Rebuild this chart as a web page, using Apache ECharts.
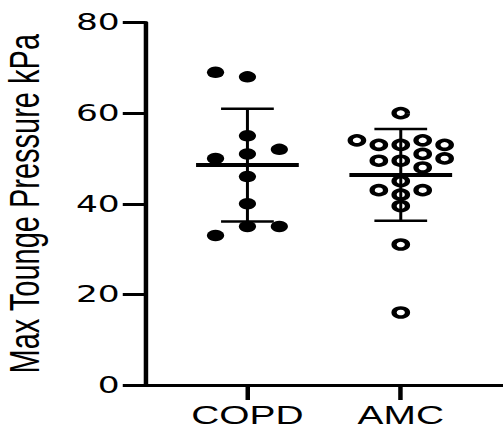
<!DOCTYPE html>
<html>
<head>
<meta charset="utf-8">
<script src="https://cdn.jsdelivr.net/npm/echarts@6/dist/echarts.min.js"></script>
<style>
  html, body { margin: 0; padding: 0; background: #fff; overflow: hidden; }
  /* the plot is laid out narrow and widened horizontally */
  #chart { width: 336px; height: 432px; transform: scaleX(1.497); transform-origin: 0 0; }
</style>
</head>
<body>
<div id="chart"></div>
<script>
// Groups and measured values (kPa)
const groups = ['COPD', 'AMC'];
const copdValues = [69, 68, 55, 52, 51, 50, 46, 40, 35, 35, 33];
const amcValues = [60, 54, 53, 53, 54, 53, 51, 50, 49.5, 49.5, 48, 45, 43, 43, 42, 39.5, 31, 16];
const yTicks = [0, 20, 40, 60, 80];

// Horizontal spread of overlapping dots: column index per point and column width
const copdColumn = [-1, 0, 0, 1, 0, -1, 0, 0, 0, 1, -1];
const amcColumn = [0, -2, -1, 0, 1, 2, 1, 2, -1, 0, 1, 0, -1, 1, 0, 0, 0, 0];
const copdStep = 0.208;
const amcStep = 0.143;

function mean(a) { return a.reduce((s, v) => s + v, 0) / a.length; }
function sd(a) {
  const m = mean(a);
  return Math.sqrt(a.reduce((s, v) => s + (v - m) * (v - m), 0) / (a.length - 1));
}

const copdPoints = copdValues.map((v, i) => [1 + copdColumn[i] * copdStep, v]);
const amcPoints = amcValues.map((v, i) => [2 + amcColumn[i] * amcStep, v]);
const summary = [
  [1, mean(copdValues), sd(copdValues)],
  [2, mean(amcValues), sd(amcValues)]
];

const meanHalf = 0.335;
const capHalf = 0.172;

const chart = echarts.init(document.getElementById('chart'), null, { renderer: 'svg' });
chart.setOption({
  backgroundColor: '#fff',
  animation: false,
  grid: { left: 97, right: 0, top: 22.5, bottom: 47, containLabel: false, outerBoundsMode: 'none' },
  xAxis: {
    type: 'value',
    min: 1 / 3,
    max: 8 / 3,
    axisLine: { show: true, onZero: false, lineStyle: { color: '#000', width: 3, opacity: 1 } },
    axisTick: { show: true, customValues: [1, 2], length: 15, lineStyle: { color: '#000', width: 3 } },
    axisLabel: {
      show: true,
      customValues: [1, 2],
      formatter: v => groups[Math.round(v) - 1] || '',
      margin: 17,
      color: '#000',
      fontSize: 26,
      fontFamily: 'Liberation Sans'
    },
    splitLine: { show: false }
  },
  yAxis: {
    type: 'value',
    min: yTicks[0],
    max: yTicks[yTicks.length - 1],
    interval: 20,
    name: 'Max Tounge Pressure kPa',
    nameLocation: 'middle',
    nameGap: 66,
    nameTextStyle: { color: '#000', fontSize: 29, fontFamily: 'Liberation Sans' },
    axisLine: { show: true, lineStyle: { color: '#000', width: 3, opacity: 1 } },
    axisTick: { show: true, length: 15, lineStyle: { color: '#000', width: 3 } },
    axisLabel: { margin: 17, color: '#000', fontSize: 23, fontFamily: 'DejaVu Sans' },
    splitLine: { show: false }
  },
  series: [
    {
      name: 'COPD',
      type: 'scatter',
      data: copdPoints,
      symbol: 'circle',
      symbolSize: 11.5,
      itemStyle: { color: '#000', opacity: 1 },
      z: 2
    },
    {
      name: 'AMC',
      type: 'scatter',
      data: amcPoints,
      symbol: 'circle',
      symbolSize: 9,
      itemStyle: { color: 'rgba(0,0,0,0)', borderColor: '#000', borderWidth: 3.5, opacity: 1 },
      z: 2
    },
    {
      name: 'Mean ± SD',
      type: 'custom',
      data: summary,
      encode: { x: 0, y: 1 },
      z: 3,
      renderItem: function (params, api) {
        const x = api.value(0), m = api.value(1), s = api.value(2);
        const top = api.coord([x, m + s]);
        const bot = api.coord([x, m - s]);
        const capL = api.coord([x - capHalf, m])[0];
        const capR = api.coord([x + capHalf, m])[0];
        const mL = api.coord([x - meanHalf, m]);
        const mR = api.coord([x + meanHalf, m]);
        const stroke = { stroke: '#000', fill: null };
        return {
          type: 'group',
          children: [
            { type: 'line', shape: { x1: top[0], y1: top[1], x2: bot[0], y2: bot[1] }, style: Object.assign({ lineWidth: 2 }, stroke) },
            { type: 'line', shape: { x1: capL, y1: top[1], x2: capR, y2: top[1] }, style: Object.assign({ lineWidth: 2.5 }, stroke) },
            { type: 'line', shape: { x1: capL, y1: bot[1], x2: capR, y2: bot[1] }, style: Object.assign({ lineWidth: 2.5 }, stroke) },
            { type: 'line', shape: { x1: mL[0], y1: mL[1], x2: mR[0], y2: mR[1] }, style: Object.assign({ lineWidth: 4 }, stroke) }
          ]
        };
      }
    }
  ]
});
</script>
</body>
</html>
